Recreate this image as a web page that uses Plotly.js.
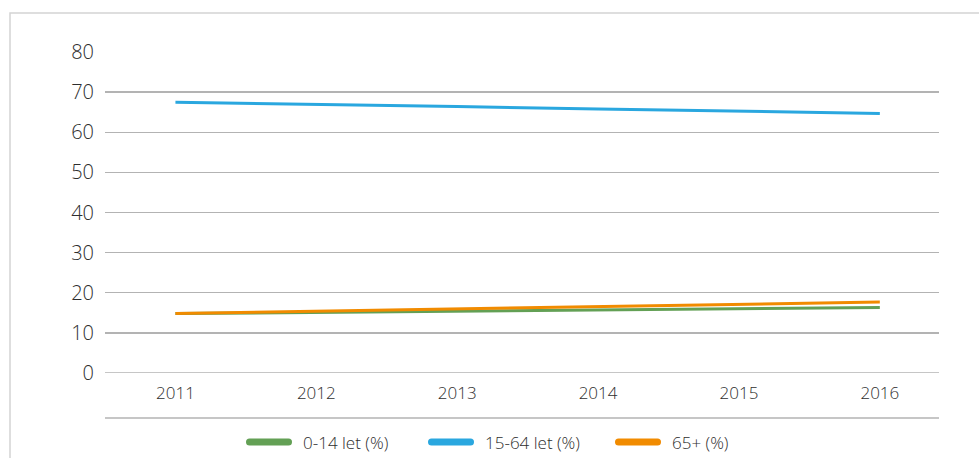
<!DOCTYPE html>
<html>
<head>
<meta charset="utf-8">
<script src="https://cdn.plot.ly/plotly-3.0.1.min.js"></script>
<style>
html,body{margin:0;padding:0;background:#fff;}
#chart{width:979px;height:458px;}
</style>
</head>
<body>
<div id="chart"></div>
<script>
const years = ['2011', '2012', '2013', '2014', '2015', '2016'];
const age0to14 = [14.8, 15.1, 15.4, 15.7, 16.0, 16.3];
const age15to64 = [67.5, 67.0, 66.4, 65.8, 65.3, 64.7];
const age65plus = [14.8, 15.4, 16.0, 16.6, 17.1, 17.7];
const seriesNames = ['0-14 let (%)', '15-64 let (%)', '65+ (%)'];
const yTicks = [0, 10, 20, 30, 40, 50, 60, 70, 80];

const colors = ['#63a055', '#2aa7df', '#f18b00'];
const textColor = '#2e2e2e';
const seriesData = [age0to14, age15to64, age65plus];

// plot area in pixels (for converting legend/frame positions to paper coords)
const PL = 105, PR = 939, PT = 52, PB = 373;
const px = v => (v - PL) / (PR - PL);
const py = v => (PB - v) / (PB - PT);

const traces = seriesData.map((vals, i) => ({
  x: years, y: vals, type: 'scatter', mode: 'lines', name: seriesNames[i],
  line: {color: colors[i], width: 3}, showlegend: false, hoverinfo: 'skip'
}));

// custom legend (rounded thick swatches + text)
const legendStarts = [246, 428, 615];
const swatchLen = 46, swatchH = 7, legendY = 442, textGap = 9;
function roundedBar(x0, x1, yc, h) {
  const r = h / 2;
  const P = (a, b) => px(a) + ',' + py(b);
  return 'M' + P(x0 + r, yc - r) + ' L' + P(x1 - r, yc - r) +
    ' Q' + P(x1, yc - r) + ' ' + P(x1, yc) +
    ' Q' + P(x1, yc + r) + ' ' + P(x1 - r, yc + r) +
    ' L' + P(x0 + r, yc + r) +
    ' Q' + P(x0, yc + r) + ' ' + P(x0, yc) +
    ' Q' + P(x0, yc - r) + ' ' + P(x0 + r, yc - r) + ' Z';
}

const shapes = [
  {type: 'line', xref: 'paper', yref: 'y', x0: 0, x1: 1, y0: 0, y1: 0,
   line: {color: '#b3b3b3', width: 1.3}, layer: 'below'},
  {type: 'line', xref: 'paper', yref: 'paper', x0: 0, x1: 1, y0: py(418), y1: py(418),
   line: {color: '#b3b3b3', width: 1.3}},
  {type: 'rect', xref: 'paper', yref: 'paper', x0: px(10), x1: px(1000), y0: py(480), y1: py(13),
   line: {color: '#d4d4d4', width: 1.5}, fillcolor: 'rgba(0,0,0,0)'}
];
const annotations = [];
seriesNames.forEach((name, i) => {
  const s = legendStarts[i];
  shapes.push({type: 'path', xref: 'paper', yref: 'paper',
    path: roundedBar(s, s + swatchLen, legendY, swatchH),
    fillcolor: colors[i], line: {width: 0}});
  annotations.push({xref: 'paper', yref: 'paper', x: px(s + swatchLen + textGap), y: py(legendY),
    xanchor: 'left', yanchor: 'middle', showarrow: false, text: name,
    font: {size: 17, color: textColor, weight: 300}});
});

const layout = {
  width: 979, height: 458,
  margin: {l: PL, r: 979 - PR, t: PT, b: 458 - PB},
  paper_bgcolor: '#ffffff', plot_bgcolor: '#ffffff',
  font: {family: 'Open Sans, sans-serif', color: textColor, weight: 300},
  showlegend: false,
  xaxis: {
    type: 'category', range: [-0.5, 5.42], showgrid: false, zeroline: false,
    showline: false, ticks: '', tickfont: {size: 17, color: textColor, weight: 300},
    ticklabelstandoff: 8, fixedrange: true
  },
  yaxis: {
    range: [0, 80], tickvals: yTicks, showgrid: true, gridcolor: '#b3b3b3',
    gridwidth: 1.3, zeroline: false, showline: false, ticks: '',
    tickfont: {size: 20, color: textColor, weight: 300}, ticklabelstandoff: 10, fixedrange: true
  },
  shapes: shapes,
  annotations: annotations
};

Plotly.newPlot('chart', traces, layout, {displayModeBar: false, staticPlot: true});
</script>
</body>
</html>
